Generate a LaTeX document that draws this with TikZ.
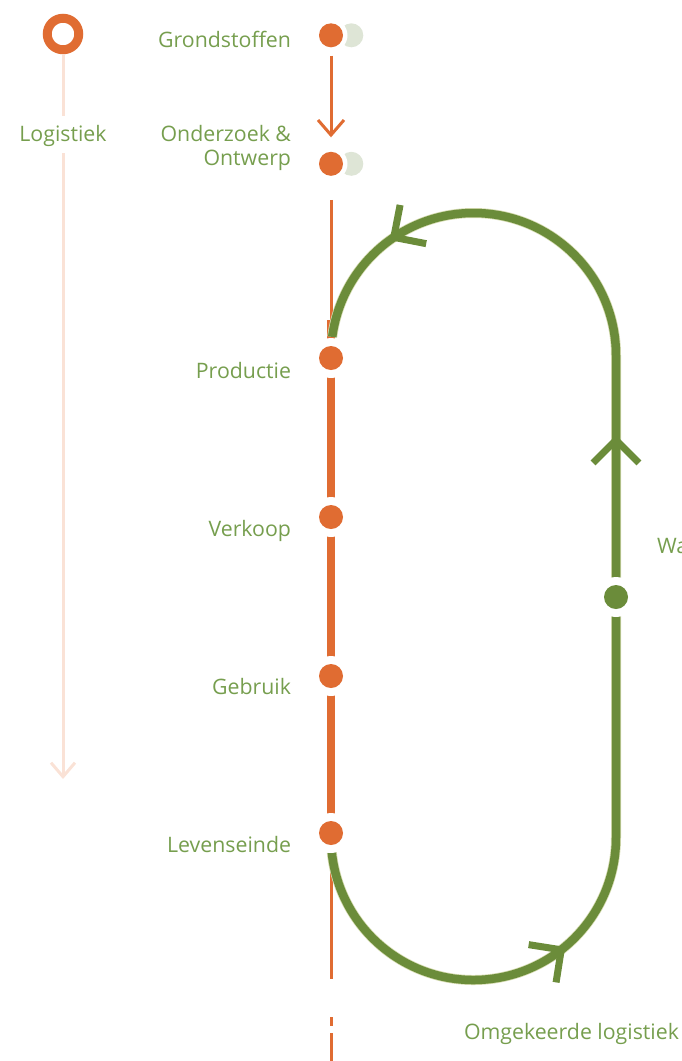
\documentclass[tikz,border=0pt]{standalone}
\usepackage{fontspec}
\setmainfont{Open Sans}
\usetikzlibrary{calc}
\definecolor{rust}{RGB}{224,108,50}
\definecolor{leaf}{RGB}{118,158,78}
\definecolor{moss}{RGB}{107,140,58}
\definecolor{mosslight}{RGB}{214,220,178}
\definecolor{blush}{RGB}{250,226,214}
\definecolor{mist}{RGB}{222,229,214}
\begin{document}
\begin{tikzpicture}[x=1pt,y=1pt,
  lbl/.style={text=leaf, font=\fontsize{21.3}{23.5}\selectfont, inner sep=0pt, outer sep=0pt},
  dot/.style={circle, fill=#1, minimum size=24pt, inner sep=0pt, outer sep=0pt},
  halo/.style={white},
  ring/.style={circle, draw=rust, line width=9pt, minimum size=31.5pt, inner sep=0pt},
  thinrust/.style={draw=rust, line width=3pt},
  thickrust/.style={draw=rust, line width=8.5pt},
  paleline/.style={draw=blush, line width=3pt},
  loopline/.style={draw=moss, line width=8.5pt},
  loopedge/.style={draw=mosslight, line width=10pt},
  chev/.style={draw=moss, line width=7pt, line join=miter}
]
\useasboundingbox (0,0) rectangle (681,-1061);

% ---- logistics stream (left) ----
\node[ring] (start) at (63,-34) {};
\node[lbl, anchor=base] (logi) at (63,-141) {Logistiek};
\coordinate (logend) at (63,-776.7);
\draw[paleline] (start.south) -- ([yshift=9pt]logi.north);
\draw[paleline] ([yshift=-7pt]logi.south) -- (logend);
\draw[paleline] ($(logend)+(-12,14)$) -- (logend) -- ($(logend)+(12,14)$);

% ---- product chain positions ----
\coordinate (grondc) at (331,-35.3);
\coordinate (onderc) at (331,-163.8);
\coordinate (prodc) at (331,-358);
\coordinate (verkc) at (331,-517);
\coordinate (gebrc) at (331,-676);
\coordinate (levenc) at (331,-833);
\coordinate (waarc) at (616,-597);

% crescents beside the first two stages
\foreach \c in {grondc,onderc}{
  \fill[mist] ($(\c)+(20.3,0)$) circle (12);
  \fill[white] (\c) circle (16.5);
}
\node[dot=rust] (grond) at (grondc) {};
\node[dot=rust] (onder) at (onderc) {};

% arrow between the first two stages
\draw[thinrust, shorten <=8.4pt, shorten >=16.8pt] (grond) -- (onder);
\draw[thinrust] ($(onder)+(-13,43.8)$) -- ($(onder)+(0,28.8)$) -- ($(onder)+(13,43.8)$);

% main orange line
\draw[thinrust] ($(onder)+(0,-36)$) -- ($(prodc)+(0,30)$);
\draw[thickrust] ($(prodc)+(0,38)$) -- (levenc);
\draw[thinrust] (levenc) -- ($(levenc)+(0,-146)$);
\coordinate (dashA) at (331,-1017);
\coordinate (dashB) at (331,-1033);
\draw[thinrust] (dashA) -- ++(0,-9);
\draw[thinrust] (dashB) -- (331,-1061);

% ---- reverse logistics loop ----
\coordinate (lowc) at (473.5,-837.5);
\coordinate (upc) at (473.5,-355.5);
\foreach \st in {loopedge,loopline}{
  \draw[\st] ($(lowc)+(186:142.5)$) arc[start angle=186,end angle=360,radius=142.5]
    -- ($(upc)+(0:142.5)$) arc[start angle=0,end angle=172.5,radius=142.5];
}
% direction marks on the loop
\coordinate (chevA) at ($(upc)+(124:142.5)$);
\coordinate (chevB) at ($(lowc)+(308:142.5)$);
\coordinate (chevC) at (616,-440);
\draw[chev] ($(chevA)+(79:33)$) -- (chevA) -- ($(chevA)+(-11:33)$);
\draw[chev] ($(chevB)+(261:33)$) -- (chevB) -- ($(chevB)+(171:33)$);
\draw[chev] ($(chevC)+(225:32.5)$) -- (chevC) -- ($(chevC)+(315:32.5)$);

% ---- stage dots with white halos ----
\foreach \c in {prodc,verkc,gebrc,levenc,waarc}{
  \fill[halo] (\c) circle (20);
}
\node[dot=rust] (prod) at (prodc) {};
\node[dot=rust] (verk) at (verkc) {};
\node[dot=rust] (gebr) at (gebrc) {};
\node[dot=rust] (leven) at (levenc) {};
\node[dot=moss] (waar) at (waarc) {};

% ---- labels ----
\node[lbl, anchor=base east] (tgrond) at (291,-47) {Grondstoffen};
\node[lbl, anchor=base east, align=right] (tonder) at (291,-165) {Onderzoek \&\\Ontwerp};
\node[lbl, anchor=base east] (tprod) at (291,-378) {Productie};
\node[lbl, anchor=base east] (tverk) at (291,-536) {Verkoop};
\node[lbl, anchor=base east] (tgebr) at (291,-694) {Gebruik};
\node[lbl, anchor=base east] (tleven) at (291,-852) {Levenseinde};
\node[lbl, anchor=base west] (twaar) at (657,-553) {Wa};
\node[lbl, anchor=base west] (tomg) at (464,-1039) {Omgekeerde logistiek};
\end{tikzpicture}
\end{document}
